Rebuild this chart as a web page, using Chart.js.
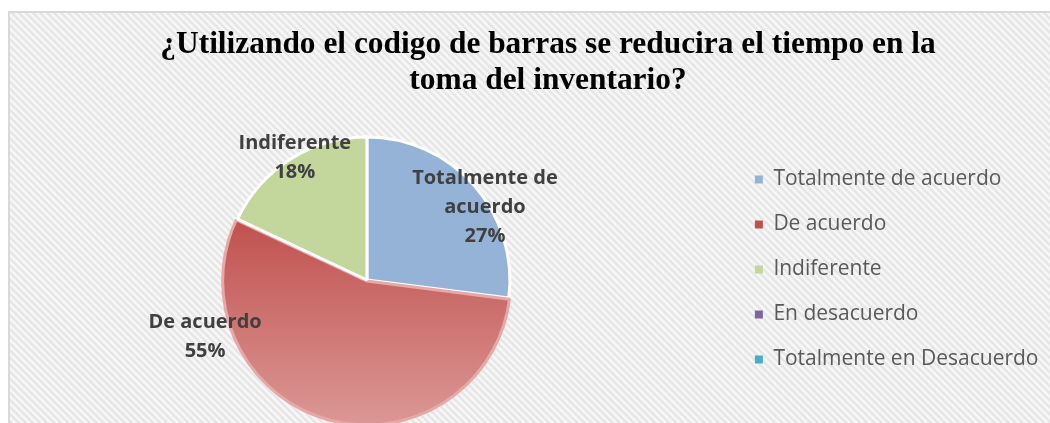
<!DOCTYPE html>
<html><head><meta charset="utf-8">
<script src="https://cdn.jsdelivr.net/npm/chart.js@4/dist/chart.umd.min.js"></script>
<style>
html,body{margin:0;padding:0;width:1050px;height:423px;overflow:hidden;background:#fff;}
#frame{position:absolute;left:8px;top:11px;width:1060px;height:440px;border-left:2px solid #d9d9d9;border-top:2px solid #d9d9d9;
background:repeating-linear-gradient(45deg,#fbfbfb 0px,#e2e2e2 2.5px,#fbfbfb 5px);}
#wrap{position:absolute;left:0;top:0;width:1050px;height:440px;}
</style></head><body>
<div id="frame"></div>
<div id="wrap"><canvas id="c"></canvas></div>
<script>
const titleLines = ['¿Utilizando el codigo de barras se reducira el tiempo en la', 'toma del inventario?'];
const categories = ['Totalmente de acuerdo', 'De acuerdo', 'Indiferente', 'En desacuerdo', 'Totalmente en Desacuerdo'];
const values = [27, 55, 18, 0, 0];
const labelLines = [['Totalmente de', 'acuerdo'], ['De acuerdo'], ['Indiferente'], ['En desacuerdo'], ['Totalmente en Desacuerdo']];

const flatColors = ['#95b3d7', '#c0504d', '#c3d69b', '#8064a2', '#4bacc6'];
const redGradientStops = ['#c0504d', '#db9896'];
const borderColors = ['#ffffff', '#e6a9a7', '#ffffff', '#ffffff', '#ffffff'];
const labelPlacement = [{turn: 9.7, rf: 0.97}, {turn: 54.4, rf: 1.2}, {turn: 1.8, rf: 0.99}, {turn: 0, rf: 1}, {turn: 0, rf: 1}];
const titleCenterX = 548, titleMidY = 45, titleLineH = 36;

const textPlugin = {
  id: 'textPlugin',
  afterDatasetsDraw(chart) {
    const ctx = chart.ctx;
    const meta = chart.getDatasetMeta(0);
    const total = values.reduce((a, b) => a + b, 0);
    ctx.save();
    ctx.fillStyle = '#404040';
    ctx.font = 'bold 20px "Open Sans"';
    ctx.textAlign = 'center';
    ctx.textBaseline = 'middle';
    meta.data.forEach((arc, i) => {
      if (!values[i]) return;
      const p = arc.getProps(['x', 'y', 'startAngle', 'endAngle', 'outerRadius'], true);
      const place = labelPlacement[i];
      const a = (p.startAngle + p.endAngle) / 2 + place.turn * Math.PI / 180;
      const cx = p.x + Math.cos(a) * p.outerRadius * place.rf;
      const cy = p.y + Math.sin(a) * p.outerRadius * place.rf;
      const lines = labelLines[i].concat([Math.round(values[i] / total * 100) + '%']);
      const lh = 29;
      lines.forEach((t, k) => ctx.fillText(t, cx, cy + (k - (lines.length - 1) / 2) * lh));
    });
    ctx.fillStyle = '#000000';
    ctx.font = 'bold 31.4px "Liberation Serif"';
    titleLines.forEach((t, k) => ctx.fillText(t, titleCenterX, titleMidY + k * titleLineH));
    ctx.restore();
  }
};

new Chart(document.getElementById('c'), {
  type: 'pie',
  data: {
    labels: categories,
    datasets: [{
      data: values,
      backgroundColor: (c) => {
        const i = c.dataIndex;
        if (i !== 1) return flatColors[i];
        const ca = c.chart.chartArea;
        if (!ca) return flatColors[1];
        const g = c.chart.ctx.createLinearGradient(0, ca.top + 70, 0, ca.bottom + 10);
        g.addColorStop(0, redGradientStops[0]);
        g.addColorStop(1, redGradientStops[1]);
        return g;
      },
      borderColor: borderColors,
      borderWidth: 3,
      offset: [0, 4, 0, 0, 0],
      radius: 143,
      clip: false
    }]
  },
  options: {
    responsive: true,
    maintainAspectRatio: false,
    animation: false,
    layout: {padding: {top: 145, bottom: 25, left: 3, right: 1.5}},
    plugins: {
      title: {display: false},
      tooltip: {enabled: false},
      legend: {
        position: 'right',
        align: 'start',
        fullSize: false,
        labels: {
          color: '#595959',
          font: {family: '"Open Sans"', size: 21},
          boxWidth: 8,
          boxHeight: 8,
          padding: 24,
          generateLabels: (chart) => {
            const items = Chart.controllers.pie.overrides.plugins.legend.labels.generateLabels(chart);
            items.forEach((it, i) => { it.fillStyle = flatColors[i]; it.lineWidth = 0; });
            return items;
          }
        }
      }
    }
  },
  plugins: [textPlugin]
});
</script>
</body></html>
